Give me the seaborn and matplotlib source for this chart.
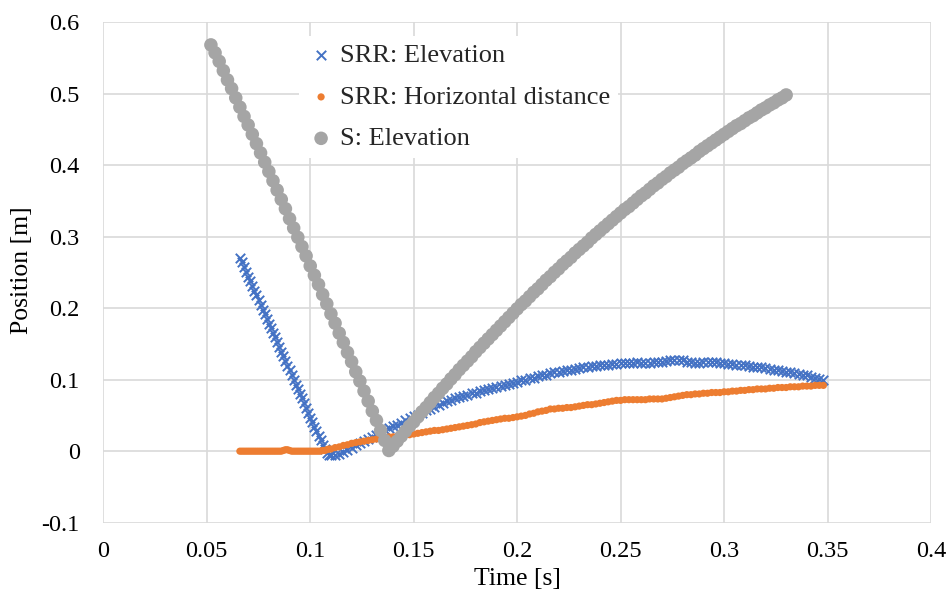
import numpy as np
import pandas as pd
import matplotlib
matplotlib.use("Agg")
import matplotlib.pyplot as plt
import seaborn as sns

# Time stamps [ms] and positions [mm]
t_srr_ms = [
    66, 67, 68, 69, 70, 71, 72, 73, 74, 75,
    76, 77, 78, 79, 80, 81, 82, 83, 84, 85,
    86, 87, 88, 89, 90, 91, 92, 93, 94, 95,
    96, 97, 98, 99, 100, 101, 102, 103, 104, 105,
    106, 107, 108, 109, 110,
    112, 114, 116, 118, 120, 122, 124, 126, 128, 130,
    132, 134, 136, 138, 140, 142, 144, 146, 148, 150,
    152, 154, 156, 158, 160, 162, 164, 166, 168, 170,
    172, 174, 176, 178, 180, 182, 184, 186, 188, 190,
    192, 194, 196, 198, 200, 202, 204, 206, 208, 210,
    212, 214, 216, 218, 220, 222, 224, 226, 228, 230,
    232, 234, 236, 238, 240, 242, 244, 246, 248, 250,
    252, 254, 256, 258, 260, 262, 264, 266, 268, 270,
    272, 274, 276, 278, 280, 282, 284, 286, 288, 290,
    292, 294, 296, 298, 300, 302, 304, 306, 308, 310,
    312, 314, 316, 318, 320, 322, 324, 326, 328, 330,
    332, 334, 336, 338, 340, 342, 344, 346, 348,
]
srr_elev_mm = [
    270, 264, 257, 251, 244, 238, 231, 224, 218, 211,
    205, 198, 192, 185, 178, 172, 165, 159, 152, 146,
    139, 133, 126, 119, 113, 106, 100, 93, 87, 80,
    74, 67, 60, 54, 47, 41, 34, 28, 21, 15,
    9, 3, -2, -5, -6,
    -6, -4, -1, 2, 5, 8, 11, 14, 17, 20,
    23, 26, 29, 32, 35, 37, 40, 43, 46, 49,
    51, 54, 57, 59, 62, 65, 67, 70, 72, 74,
    76, 77, 79, 81, 82, 84, 85, 87, 88, 90,
    91, 93, 94, 96, 97, 99, 100, 102, 103, 105,
    106, 107, 109, 110, 111, 112, 113, 114, 115, 116,
    117, 118, 119, 119, 120, 121, 121, 122, 122, 123,
    123, 123, 123, 124, 123, 123, 123, 124, 124, 125,
    126, 127, 128, 128, 127, 125, 124, 123, 123, 124,
    124, 124, 124, 123, 123, 122, 122, 121, 120, 120,
    119, 118, 118, 117, 116, 115, 114, 113, 112, 111,
    110, 109, 108, 107, 106, 104, 103, 101, 99,
]
srr_horiz_mm = [
    0, 0, 0, 0, 0, 0, 0, 0, 0, 0,
    0, 0, 0, 0, 0, 0, 0, 0, 0, 0,
    0, 1, 2, 2, 1, 0, 0, 0, 0, 0,
    0, 0, 0, 0, 0, 0, 0, 0, 0, 0,
    1, 1, 2, 3, 3,
    5, 6, 8, 9, 11, 12, 13, 14, 15, 16,
    17, 18, 19, 20, 20, 21, 22, 23, 23, 24,
    25, 26, 27, 28, 29, 29, 30, 31, 32, 33,
    34, 35, 36, 37, 38, 40, 41, 42, 43, 44,
    45, 46, 46, 47, 48, 49, 50, 52, 53, 55,
    56, 57, 59, 59, 60, 60, 61, 61, 62, 63,
    64, 65, 65, 66, 67, 68, 69, 70, 71, 71,
    72, 72, 72, 72, 72, 72, 73, 73, 73, 73,
    74, 75, 76, 77, 78, 79, 79, 80, 80, 81,
    81, 82, 82, 82, 83, 83, 84, 84, 85, 85,
    86, 86, 87, 87, 87, 88, 88, 89, 89, 89,
    90, 90, 90, 91, 91, 91, 92, 92, 92,
]
t_s_ms = [
    52, 54, 56, 58, 60, 62, 64, 66, 68, 70,
    72, 74, 76, 78, 80, 82, 84, 86, 88, 90,
    92, 94, 96, 98, 100, 102, 104, 106, 108, 110,
    112, 114, 116, 118, 120, 122, 124, 126, 128, 130,
    132, 134, 136, 138, 140, 142, 144, 146, 148, 150,
    152, 154, 156, 158, 160, 162, 164, 166, 168, 170,
    172, 174, 176, 178, 180, 182, 184, 186, 188, 190,
    192, 194, 196, 198, 200, 202, 204, 206, 208, 210,
    212, 214, 216, 218, 220, 222, 224, 226, 228, 230,
    232, 234, 236, 238, 240, 242, 244, 246, 248, 250,
    252, 254, 256, 258, 260, 262, 264, 266, 268, 270,
    272, 274, 276, 278, 280, 282, 284, 286, 288, 290,
    292, 294, 296, 298, 300, 302, 304, 306, 308, 310,
    312, 314, 316, 318, 320, 322, 324, 326, 328, 330,
]
s_elev_mm = [
    568, 557, 545, 532, 519, 507, 494, 481, 468, 456,
    443, 430, 417, 404, 391, 378, 365, 352, 339, 325,
    312, 299, 286, 273, 259, 246, 233, 219, 206, 192,
    179, 165, 152, 138, 125, 111, 98, 84, 70, 56,
    43, 29, 15, 1,
    7, 14, 21, 28, 35, 41, 48, 55, 61, 68,
    75, 81, 88, 94, 101, 107, 114, 120, 126, 132,
    139, 145, 151, 157, 163, 169, 175, 181, 187, 193,
    199, 205, 210, 216, 222, 227, 233, 239, 244, 250,
    255, 261, 266, 271, 277, 282, 287, 292, 298, 303,
    308, 313, 318, 323, 328, 333, 338, 342, 347, 352,
    357, 361, 366, 371, 375, 380, 384, 389, 393, 397,
    402, 406, 410, 414, 419, 423, 427, 431, 435, 439,
    443, 447, 451, 455, 458, 462, 466, 469, 473, 477,
    480, 484, 487, 491, 494, 498,
]

x_ticks = [0, 0.05, 0.1, 0.15, 0.2, 0.25, 0.3, 0.35, 0.4]
x_tick_labels = ["0", "0.05", "0.1", "0.15", "0.2", "0.25", "0.3", "0.35", "0.4"]
y_ticks = [-0.1, 0, 0.1, 0.2, 0.3, 0.4, 0.5, 0.6]
y_tick_labels = ["-0.1", "0", "0.1", "0.2", "0.3", "0.4", "0.5", "0.6"]

srr = pd.DataFrame({
    "time": np.array(t_srr_ms) / 1000,
    "elev": np.array(srr_elev_mm) / 1000,
    "horiz": np.array(srr_horiz_mm) / 1000,
})
s_df = pd.DataFrame({
    "time": np.array(t_s_ms) / 1000,
    "elev": np.array(s_elev_mm) / 1000,
})

sns.set_theme(style="white")
plt.rcParams["font.family"] = ["Liberation Serif", "DejaVu Serif"]

fig = plt.figure(figsize=(9.47, 5.95), dpi=100)
ax = fig.add_axes([0.1091, 0.1215, 0.8740, 0.8415])

sns.scatterplot(data=srr, x="time", y="elev", ax=ax, marker="x", s=46,
                color="#4472C4", linewidth=1.4, label="SRR: Elevation", zorder=3)
sns.scatterplot(data=srr, x="time", y="horiz", ax=ax, marker="o", s=27,
                color="#ED7D31", edgecolor="none", label="SRR: Horizontal distance", zorder=4)
sns.scatterplot(data=s_df, x="time", y="elev", ax=ax, marker="o", s=95,
                color="#A5A5A5", edgecolor="none", label="S: Elevation", zorder=5)

ax.set_xlim(0, 0.4)
ax.set_ylim(-0.1, 0.6)
ax.set_xticks(x_ticks)
ax.set_xticklabels(x_tick_labels)
ax.set_yticks(y_ticks)
ax.set_yticklabels(y_tick_labels)
ax.tick_params(axis="both", length=0, labelsize=17.5, colors="black")
ax.tick_params(axis="x", pad=13)
ax.tick_params(axis="y", pad=17)

ax.grid(True, color="#d9d9d9", linewidth=1.2)
ax.set_axisbelow(True)
for sp in ax.spines.values():
    sp.set_visible(False)

ax.set_xlabel("Time [s]", fontsize=18.5, color="black")
ax.set_ylabel("Position [m]", fontsize=18.5, color="black")
ax.xaxis.set_label_coords(0.5, -0.113)
ax.xaxis.label.set_va("center")
ax.yaxis.set_label_coords(-0.098, 0.505)
ax.yaxis.label.set_va("center")

leg = ax.legend(loc="upper left", bbox_to_anchor=(0.236, 0.972), frameon=True,
                fontsize=19, handletextpad=0.15, labelspacing=0.68,
                borderpad=0.3, handlelength=1.1, borderaxespad=0)
leg.get_frame().set_facecolor("white")
leg.get_frame().set_edgecolor("none")
leg.get_frame().set_alpha(1)
leg.set_zorder(6)

fig.savefig("out.png", dpi=100)
